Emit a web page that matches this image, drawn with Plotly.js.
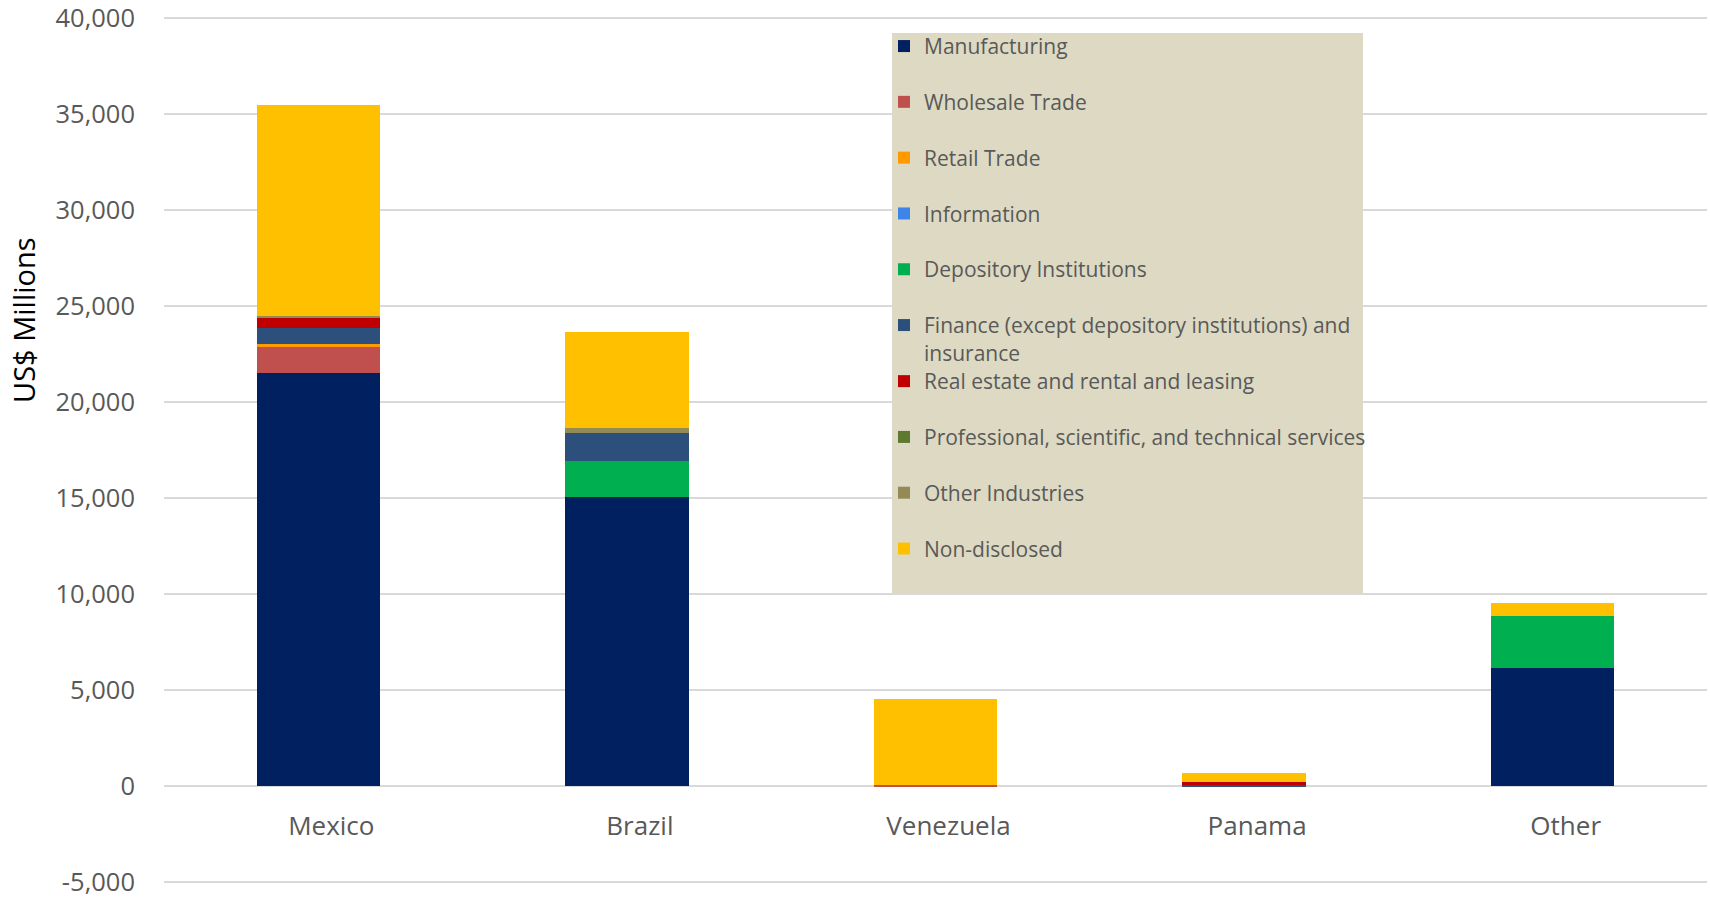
<!DOCTYPE html>
<html>
<head>
<meta charset="utf-8">
<script src="https://cdn.plot.ly/plotly-3.0.1.min.js"></script>
<style>
html,body{margin:0;padding:0;background:#fff;}
#chart{width:1710px;height:900px;}
</style>
</head>
<body>
<div id="chart"></div>
<script>
const categories = ['Mexico', 'Brazil', 'Venezuela', 'Panama', 'Other'];
const manufacturing = [21500, 15050, 0, 0, 6170];
const wholesaleTrade = [1350, 0, 40, 0, 0];
const retailTrade = [190, 0, 0, 0, 0];
const information = [0, 0, 0, 0, 0];
const depositoryInstitutions = [0, 1890, 0, 0, 2670];
const finance = [830, 1470, 0, 40, 0];
const realEstate = [555, 0, 0, 170, 0];
const professional = [0, 0, 0, 0, 0];
const otherIndustries = [70, 260, 0, 0, 0];
const nonDisclosed = [10970, 4960, 4480, 450, 690];
const yTickValues = [-5000, 0, 5000, 10000, 15000, 20000, 25000, 30000, 35000, 40000];
const yTickLabels = yTickValues.map(v => v.toLocaleString('en-US'));

const seriesNames = [
  'Manufacturing',
  'Wholesale Trade',
  'Retail Trade',
  'Information',
  'Depository Institutions',
  'Finance (except depository institutions) and<br>insurance',
  'Real estate and rental and leasing',
  'Professional, scientific, and technical services',
  'Other Industries',
  'Non-disclosed'
];
const seriesValues = [manufacturing, wholesaleTrade, retailTrade, information,
  depositoryInstitutions, finance, realEstate, professional, otherIndustries, nonDisclosed];
const seriesColors = ['#002060', '#C0504D', '#FF9900', '#3D85E8', '#00B050',
  '#2D4F7B', '#C00000', '#5F7A30', '#948A54', '#FFC000'];

const traces = seriesNames.map((name, i) => ({
  type: 'bar',
  name: name,
  x: categories,
  y: seriesValues[i],
  marker: {color: seriesColors[i]},
  legendgroup: 'g' + i,
  legend: i < 6 ? 'legend' : 'legend2',
  hoverinfo: 'x+y+name'
}));

const legendFont = {family: 'Open Sans', size: 21, color: '#595959'};

// plot area geometry (pixels)
const plotTop = 16.1, plotBottom = 883.9, plotLeft = 164, plotRight = 1707;
const plotH = plotBottom - plotTop, plotW = plotRight - plotLeft;
const px2x = p => (p - plotLeft) / plotW;
const py2y = p => (plotBottom - p) / plotH;

const layout = {
  width: 1710,
  height: 900,
  margin: {l: plotLeft, r: 1710 - plotRight, t: plotTop, b: 900 - plotBottom},
  paper_bgcolor: '#ffffff',
  plot_bgcolor: '#ffffff',
  font: {family: 'Open Sans', color: '#595959', size: 26},
  barmode: 'stack',
  bargap: 0.6,
  xaxis: {
    type: 'category',
    anchor: 'free',
    position: 5100 / 45200,
    showgrid: false,
    showline: false,
    zeroline: false,
    ticks: '',
    ticklabelstandoff: 22,
    ticklabelshift: 13,
    tickfont: {family: 'Open Sans', size: 26, color: '#595959'}
  },
  yaxis: {
    range: [-5100, 40100],
    tickvals: yTickValues,
    ticktext: yTickLabels,
    showgrid: true,
    gridcolor: '#D9D9D9',
    gridwidth: 2,
    zeroline: true,
    zerolinecolor: '#D9D9D9',
    zerolinewidth: 2,
    showline: false,
    ticks: '',
    ticklabelstandoff: 28,
    ticklabeloverflow: 'allow',
    tickfont: {family: 'Open Sans', size: 25.5, color: '#595959'}
  },
  annotations: [{
    text: 'US$ Millions',
    xref: 'paper', yref: 'paper',
    x: px2x(24), y: py2y(320),
    xanchor: 'center', yanchor: 'middle',
    textangle: -90,
    showarrow: false,
    font: {family: 'Open Sans', size: 29, color: '#000000'}
  }],
  shapes: [{
    type: 'rect',
    xref: 'paper', yref: 'paper',
    x0: px2x(892), x1: px2x(1363),
    y0: py2y(593), y1: py2y(33),
    fillcolor: '#DDD9C3',
    line: {width: 0},
    layer: 'above'
  }],
  legend: {
    x: px2x(884),
    xanchor: 'left',
    y: py2y(26),
    yanchor: 'top',
    bgcolor: 'rgba(0,0,0,0)',
    borderwidth: 0,
    font: legendFont,
    traceorder: 'grouped',
    tracegroupgap: 25.5,
    valign: 'top',
    itemclick: false,
    itemdoubleclick: false
  },
  legend2: {
    x: px2x(884),
    xanchor: 'left',
    y: py2y(361),
    yanchor: 'top',
    bgcolor: 'rgba(0,0,0,0)',
    borderwidth: 0,
    font: legendFont,
    traceorder: 'grouped',
    tracegroupgap: 25.5,
    valign: 'top',
    itemclick: false,
    itemdoubleclick: false
  },
  showlegend: true
};

Plotly.newPlot('chart', traces, layout, {displayModeBar: false, responsive: false});
</script>
</body>
</html>
